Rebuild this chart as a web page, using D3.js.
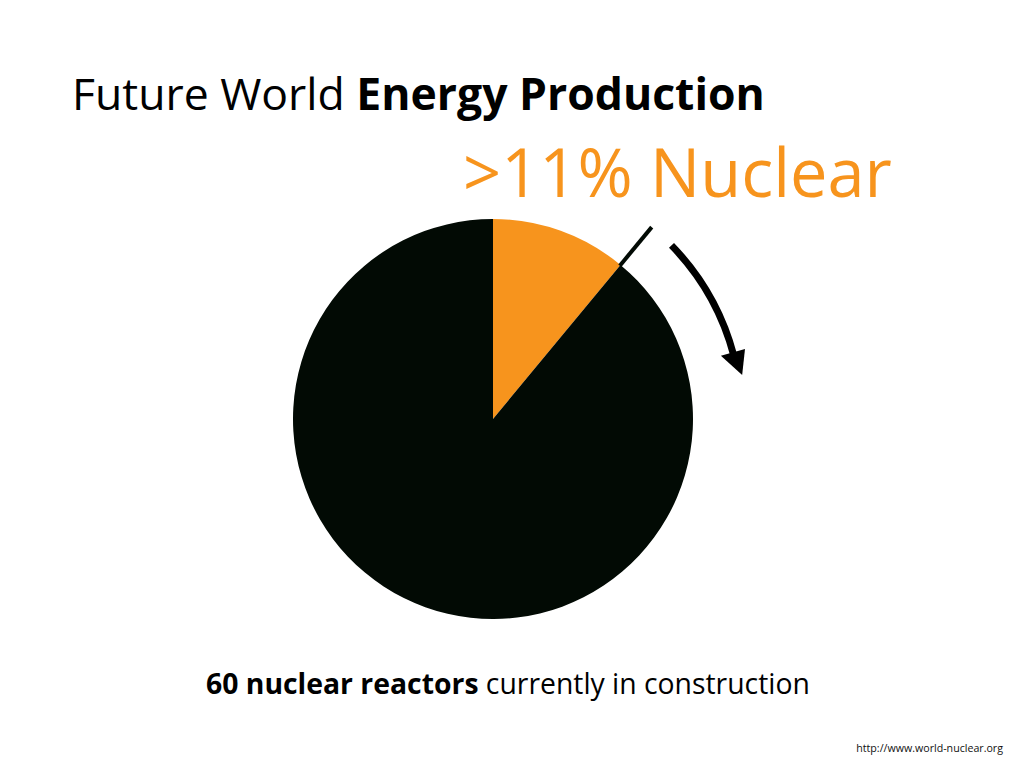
<!DOCTYPE html>
<html><head><meta charset="utf-8">
<script src="https://cdn.jsdelivr.net/npm/d3@7"></script>
<style>html,body{margin:0;padding:0;background:#fff;}svg{display:block;}</style>
</head><body>
<svg id="chart" width="1024" height="768"></svg>
<script>
const categories = ["Nuclear", "Other sources"];
const shares = [11, 89];
const colors = ["#F7941D", "#020A04"];
const titleParts = ["Future World ", "Energy Production"];
const highlightLabel = ">11% Nuclear";
const footParts = ["60 nuclear reactors", " currently in construction"];
const sourceLabel = "http://www.world-nuclear.org";

const svg = d3.select("#chart");
const cx = 493, cy = 419, R = 200;
const font = "'Open Sans', 'Liberation Sans', sans-serif";

function fitText(sel, targetW) {
  const w = sel.node().getComputedTextLength();
  const fs = parseFloat(sel.attr("font-size"));
  sel.attr("font-size", fs * targetW / w);
}

// Title
const title = svg.append("text").attr("x", 72).attr("y", 110)
  .attr("font-family", font).attr("font-size", 45).attr("fill", "#000");
title.append("tspan").attr("font-weight", 400).text(titleParts[0]);
title.append("tspan").attr("font-weight", 700).text(titleParts[1]);
fitText(title, 765 - 72);

// Highlight label
const hl = svg.append("text").attr("x", 463).attr("y", 197)
  .attr("font-family", font).attr("font-size", 62).attr("font-weight", 400)
  .attr("fill", colors[0]).text(highlightLabel);
fitText(hl, 892 - 463);

// Pie
const pie = d3.pie().sort(null).value(d => d)(shares);
const arc = d3.arc().innerRadius(0).outerRadius(R);
const g = svg.append("g").attr("transform", `translate(${cx},${cy})`);
g.selectAll("path.slice").data(pie).join("path").attr("class", "slice")
  .attr("d", arc).attr("fill", (d, i) => colors[i]);

// Leader line along the boundary between slices
const a = pie[0].endAngle;
g.append("line")
  .attr("x1", Math.sin(a) * (R - 1)).attr("y1", -Math.cos(a) * (R - 1))
  .attr("x2", Math.sin(a) * 249).attr("y2", -Math.cos(a) * 249)
  .attr("stroke", colors[1]).attr("stroke-width", 4);

// Curved arrow indicating growth
const rA = 249;
const deg = Math.PI / 180;
const a0 = 45.8 * deg, a1 = 74.5 * deg, aTip = 80 * deg;
const shaft = d3.arc().innerRadius(rA - 3.5).outerRadius(rA + 3.5).startAngle(a0).endAngle(a1 + 0.01);
g.append("path").attr("d", shaft()).attr("fill", "#000");
const pt = (ang, r) => [Math.sin(ang) * r, -Math.cos(ang) * r];
const head = [pt(a1, rA - 12.5), pt(a1, rA + 12.5), pt(aTip, rA + 4)];
g.append("path").attr("d", "M" + head.map(p => p.join(",")).join("L") + "Z").attr("fill", "#000");

// Footer
const foot = svg.append("text").attr("x", 206).attr("y", 694)
  .attr("font-family", font).attr("font-size", 26).attr("fill", "#000");
foot.append("tspan").attr("font-weight", 700).text(footParts[0]);
foot.append("tspan").attr("font-weight", 400).text(footParts[1]);
fitText(foot, 810 - 206);

// Source
const src = svg.append("text").attr("x", 1003).attr("y", 752).attr("text-anchor", "end")
  .attr("font-family", font).attr("font-size", 11).attr("fill", "#111").text(sourceLabel);
fitText(src, 1003 - 856);
</script>
</body></html>
